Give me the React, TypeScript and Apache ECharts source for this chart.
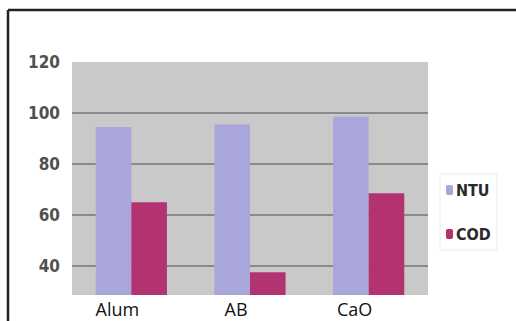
import React, { useEffect, useRef } from "react";
import * as echarts from "echarts";

const categories = ["Alum", "AB", "CaO"];
const ntuValues = [94.5, 95.5, 98.5];
const codValues = [65, 37.5, 68.5];
const yLabels = [40, 60, 80, 100, 120];
const yGridLines = [40, 60, 80, 100];

export default function App() {
  const ref = useRef<HTMLDivElement>(null);
  useEffect(() => {
    if (!ref.current) return;
    const chart = echarts.init(ref.current, null, { renderer: "svg" });
    chart.setOption({
      animation: false,
      backgroundColor: "#ffffff",
      grid: {
        left: 72,
        right: 88,
        top: 62,
        bottom: 26,
        show: true,
        backgroundColor: "#c9c9c9",
        borderWidth: 0,
      },
      legend: {
        orient: "vertical",
        left: 440,
        top: 174,
        itemGap: 28,
        itemWidth: 7,
        itemHeight: 10,
        padding: [8, 6, 8, 6],
        borderColor: "#ececec",
        borderWidth: 1,
        backgroundColor: "#ffffff",
        textStyle: {
          fontSize: 16,
          fontFamily: "DejaVu Sans Condensed",
          fontWeight: "bold",
          color: "#2a2a2a",
          padding: [0, 0, 0, -2],
        },
        data: ["NTU", "COD"],
      },
      xAxis: {
        type: "category",
        data: categories,
        axisLine: { show: false },
        axisTick: { show: false },
        axisLabel: {
          fontSize: 18,
          fontFamily: "Open Sans",
          color: "#111",
          margin: 5,
          padding: [0, 28, 0, 0],
        },
      },
      yAxis: {
        type: "value",
        min: 28.6,
        max: 120,
        axisLine: { show: false },
        axisTick: { show: false, customValues: yGridLines },
        axisLabel: {
          customValues: yLabels,
          fontSize: 17,
          fontFamily: "DejaVu Sans Condensed",
          fontWeight: "bold",
          color: "#505050",
          margin: 12,
        },
        splitLine: { show: true, lineStyle: { color: "#8a8a8a", width: 2 } },
      },
      series: [
        {
          name: "NTU",
          type: "bar",
          data: ntuValues,
          barGap: "0%",
          barCategoryGap: "40%",
          itemStyle: { color: "#a8a6db" },
        },
        {
          name: "COD",
          type: "bar",
          data: codValues,
          itemStyle: { color: "#b2336f" },
        },
      ],
      graphic: [
        {
          type: "line",
          shape: { x1: 8, y1: 10, x2: 516, y2: 10 },
          style: { stroke: "#222", lineWidth: 2.5 },
        },
        {
          type: "line",
          shape: { x1: 8, y1: 10, x2: 8, y2: 321 },
          style: { stroke: "#222", lineWidth: 2.5 },
        },
      ],
    });
    return () => chart.dispose();
  }, []);
  return <div ref={ref} style={{ width: 516, height: 321, position: "fixed", left: 0, top: 0 }} />;
}
